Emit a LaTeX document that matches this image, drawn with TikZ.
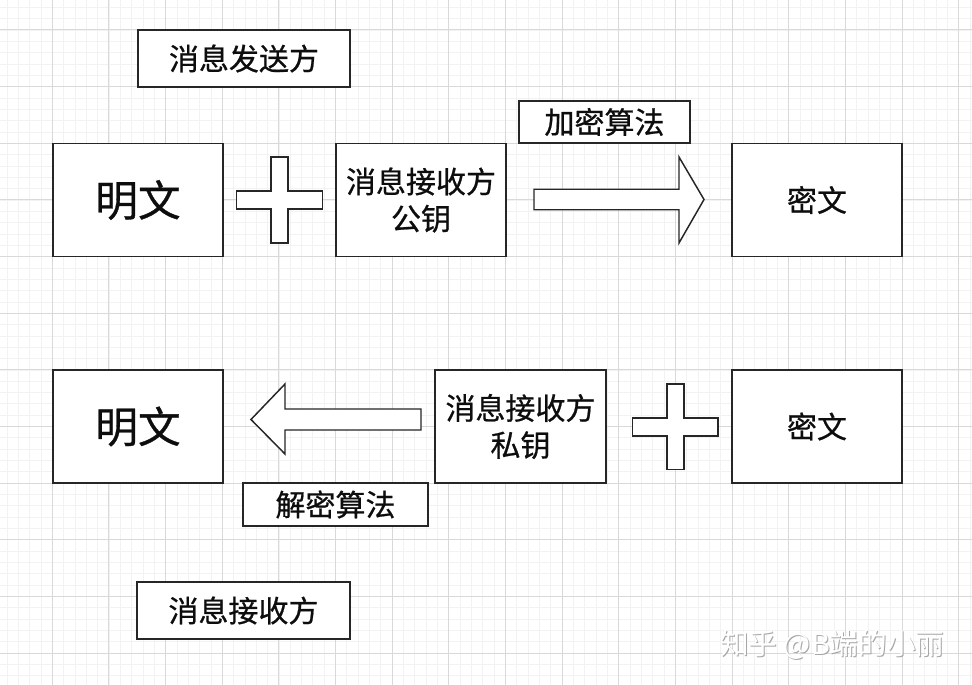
\documentclass[tikz,border=0pt]{standalone}
\usepackage{fontspec}
\setmainfont{Noto Sans CJK SC}[FakeBold=0.7]
\newfontfamily\wmfont{Noto Sans CJK SC}
\begin{document}
\begin{tikzpicture}[x=0.75pt,y=-0.75pt,
  minorgrid/.style={draw=black!5,line width=0.6pt},
  majorgrid/.style={draw=black!15,line width=0.75pt},
  box/.style={draw=black!85,line width=1.1pt,fill=white,inner sep=0pt,
    font=\fontsize{22.5pt}{27.75pt}\selectfont,align=center,text=black!95},
  bigbox/.style={box,minimum width=127.5pt,minimum height=84.75pt},
  shapeline/.style={draw=black!85,line width=1.1pt,fill=white,line join=miter},
  wm/.style={font=\wmfont\fontsize{21.5pt}{24pt}\selectfont,anchor=west,inner sep=0pt}]
\useasboundingbox (0,0) rectangle (972,685);
\fill[white] (0,0) rectangle (972,685);
% grid
\foreach \i in {0,...,86} {\draw[minorgrid] ({-4.35+\i*11.33},0) -- ({-4.35+\i*11.33},685);}
\foreach \i in {0,...,62} {\draw[minorgrid] (0,{-26.65+\i*11.33}) -- (972,{-26.65+\i*11.33});}
\foreach \i in {0,...,17} {\draw[majorgrid] ({-4.35+\i*56.65},0) -- ({-4.35+\i*56.65},685);}
\foreach \i in {0,...,12} {\draw[majorgrid] (0,{-26.65+\i*56.65}) -- (972,{-26.65+\i*56.65});}

% top row
\node[box,minimum width=159pt,minimum height=42.75pt] (send) at (244,58.5) {消息发送方};
\node[bigbox] (pt1) at (138,200) {\fontsize{32pt}{36pt}\selectfont 明文};
\node[bigbox] (pub) at (421,200) {消息接收方\\公钥};
\node[box,minimum width=128.25pt,minimum height=31.5pt] (enc) at (604.5,122) {加密算法};
\node[bigbox] (ct1) at (817,200) {密文};

% plus 1
\coordinate (p1) at (279.5,200);
\draw[shapeline] (p1) ++(-8.5,-43) -- ++(17,0) -- ++(0,34) -- ++(34.5,0) -- ++(0,18)
  -- ++(-34.5,0) -- ++(0,34) -- ++(-17,0) -- ++(0,-34) -- ++(-34.5,0) -- ++(0,-18)
  -- ++(34.5,0) -- cycle;

% arrow right
\coordinate (a1) at (534,199.5);
\draw[shapeline] (a1) ++(0,-10.25) -- ++(145,0) -- ++(0,-32.25) -- ++(25,42.5)
  -- ++(-25,43.5) -- ++(0,-33.25) -- ++(-145,0) -- cycle;

% bottom row
\node[bigbox] (pt2) at (138,426.5) {\fontsize{32pt}{36pt}\selectfont 明文};
\node[bigbox,minimum width=128.25pt] (priv) at (520.5,426.5) {消息接收方\\私钥};
\node[bigbox] (ct2) at (817,426.5) {密文};
\node[box,minimum width=138.75pt,minimum height=32.25pt] (dec) at (335.5,504.5) {解密算法};
\node[box,minimum width=159.75pt,minimum height=42.75pt] (recv) at (243.5,610.5) {消息接收方};

% arrow left
\coordinate (a2) at (421,419.5);
\draw[shapeline] (a2) ++(0,-10.5) -- ++(-136,0) -- ++(0,-25) -- ++(-34,35.5)
  -- ++(34,34.5) -- ++(0,-24) -- ++(136,0) -- cycle;

% plus 2
\coordinate (p2) at (675.5,426.5);
\draw[shapeline] (p2) ++(-8.5,-42.5) -- ++(17,0) -- ++(0,34) -- ++(34,0) -- ++(0,18)
  -- ++(-34,0) -- ++(0,33.5) -- ++(-17,0) -- ++(0,-33.5) -- ++(-34.5,0) -- ++(0,-18)
  -- ++(34.5,0) -- cycle;

% watermark
\node[wm,text=black!35] (wmshadow) at (721,646) {知乎 @B端的小丽};
\node[wm,text=white] (wmtext) at (720,645) {知乎 @B端的小丽};
\end{tikzpicture}
\end{document}
